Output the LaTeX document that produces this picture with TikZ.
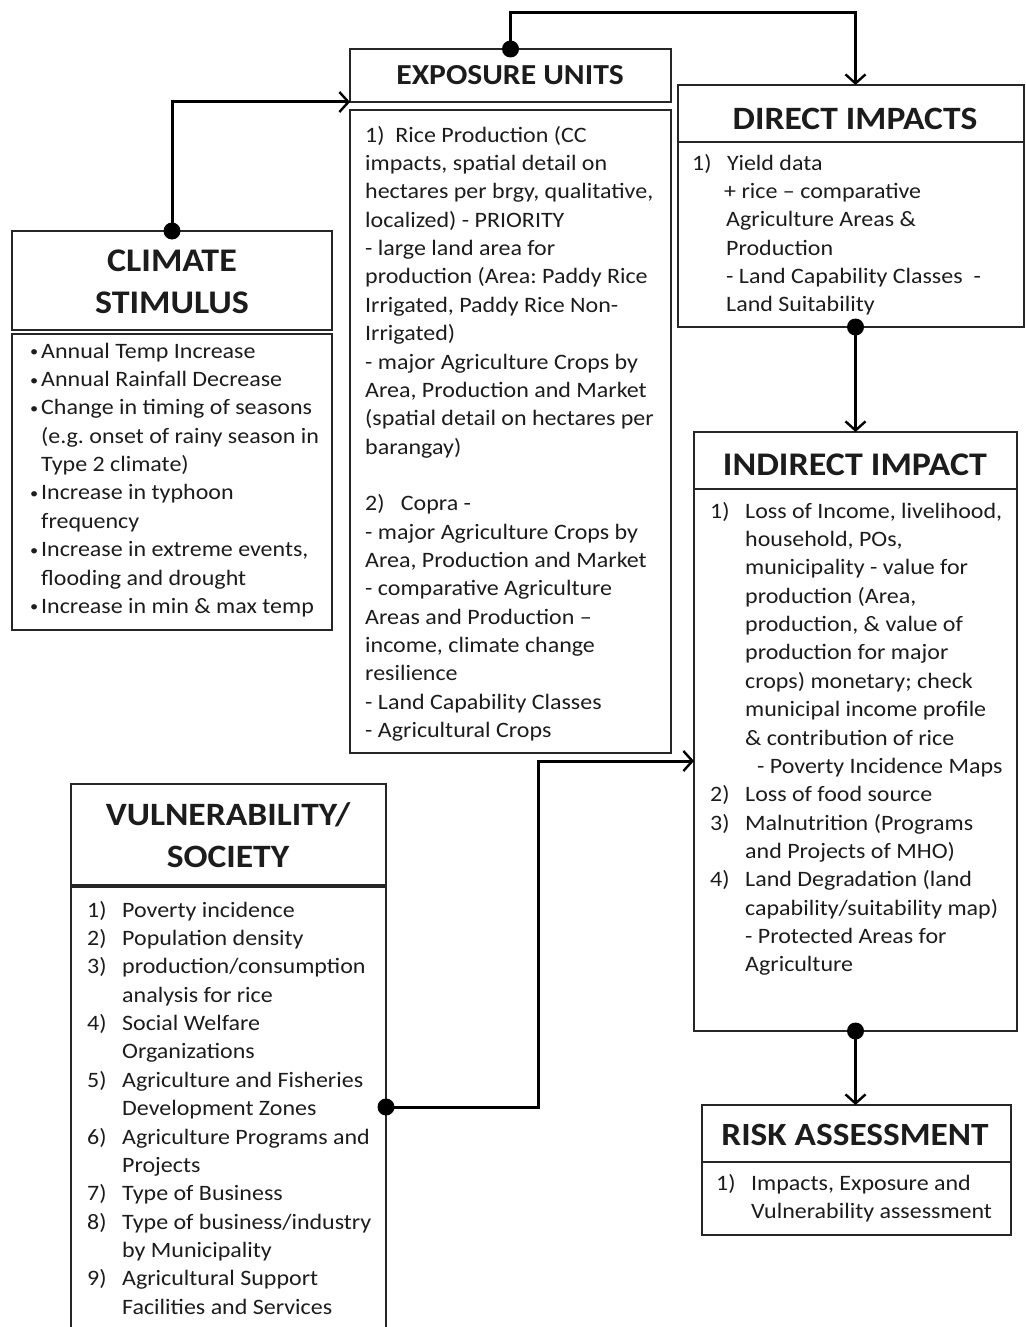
\documentclass[tikz,border=0pt]{standalone}
\usepackage{fontspec}
\setmainfont{Carlito}[FakeStretch=1.09]
\usetikzlibrary{arrows.meta,calc}

% body text: 22pt on a 28.35pt grid
\newcommand\bodyfont{\fontsize{22}{28.35}\selectfont\frenchspacing}
\newcommand\headfont[1]{\fontsize{#1}{42}\selectfont\bfseries}
% numbered entries with a hanging indent
\newcommand\nitem[1]{\makebox[35pt][l]{#1}}
\newcommand\ncont{\hspace*{35pt}}
\newcommand\bul{\makebox[11pt][l]{\raisebox{1.5pt}{\fontsize{15}{15}\selectfont\textbullet}}}
\newcommand\bcont{\hspace*{11pt}}

\definecolor{ink}{HTML}{1C1C1C}
\definecolor{rule}{HTML}{262626}

\tikzset{
  panel/.style={draw=rule, line width=1.6pt, fill=none, anchor=north west,
                inner sep=0pt, outer sep=0pt},
  bodytext/.style={anchor=north west, inner sep=0pt, align=left,
                   font=\bodyfont, text=ink},
  headtext/.style={anchor=base, inner sep=0pt, text=ink},
  conn/.style={draw=black, line width=3pt,
               -{Straight Barb[length=9pt, width=20pt, line width=2.4pt]}},
  dot/.style={fill=black},
}

\begin{document}
\begin{tikzpicture}[x=1pt, y=-1pt]
\useasboundingbox (0,0) rectangle (1025,1327);

% ---------- panels (header and body) ----------
\node[panel, minimum width=320, minimum height=99]  (climH) at (12,231) {};
\node[panel, minimum width=320, minimum height=296] (climB) at (12,334) {};

\node[panel, minimum width=321, minimum height=53]  (expH) at (350,49) {};
\node[panel, minimum width=321, minimum height=643] (expB) at (350,110) {};

\node[panel, minimum width=346, minimum height=57]  (dirH) at (678,85) {};
\node[panel, minimum width=346, minimum height=185] (dirB) at (678,142) {};

\node[panel, minimum width=323, minimum height=57]  (indH) at (694,432) {};
\node[panel, minimum width=323, minimum height=542] (indB) at (694,489) {};

\node[panel, minimum width=309, minimum height=57]  (riskH) at (702,1105) {};
\node[panel, minimum width=309, minimum height=73]  (riskB) at (702,1162) {};

\node[panel, minimum width=315, minimum height=101] (vulH) at (71,784) {};
\node[panel, minimum width=315, minimum height=460] (vulB) at (71,887) {};

% ---------- headings ----------
\node[anchor=north, inner sep=0pt, align=center, text=ink,
      font=\headfont{33}] (climT) at (172,241.6) {\strut CLIMATE\\STIMULUS};
\node[headtext, font=\headfont{29}]   (expT)  at (510,85)  {EXPOSURE UNITS};
\node[headtext, font=\headfont{32.6}] (dirT)  at (855,130) {DIRECT IMPACTS};
\node[headtext, font=\headfont{33}]   (indT)  at (855,475) {INDIRECT IMPACT};
\node[headtext, font=\headfont{32.4}] (riskT) at (855,1145) {RISK ASSESSMENT};
\node[anchor=north, inner sep=0pt, align=center, text=ink,
      font=\headfont{32.6}] (vulT) at (228,795.6) {\strut VULNERABILITY/\\SOCIETY};

% ---------- body texts ----------
\node[bodytext] (climX) at (30,338.15) {\strut
\bul Annual Temp Increase\\
\bul Annual Rainfall Decrease\\
\bul Change in timing of seasons\\
\bcont (e.g. onset of rainy season in\\
\bcont Type 2 climate)\\
\bul Increase in typhoon\\
\bcont frequency\\
\bul Increase in extreme events,\\
\bcont flooding and drought\\
\bul Increase in min \& max temp};

\node[bodytext] (expX) at (365,122.15) {\strut
1)\ \ Rice Production (CC\\
impacts, spatial detail on\\
hectares per brgy, qualitative,\\
localized) - PRIORITY\\
- large land area for\\
production (Area: Paddy Rice\\
Irrigated, Paddy Rice Non-\\
Irrigated)\\
- major Agriculture Crops by\\
Area, Production and Market\\
(spatial detail on hectares per\\
barangay)\\
\mbox{}\\
2)\ \ \ Copra -\\
- major Agriculture Crops by\\
Area, Production and Market\\
- comparative Agriculture\\
Areas and Production --\\
income, climate change\\
resilience\\
- Land Capability Classes\\
- Agricultural Crops};

\node[bodytext] (dirX) at (692,150.15) {\strut
\nitem{1)}Yield data\\
\hspace*{32pt}+ rice -- comparative\\
\hspace*{34pt}Agriculture Areas \&\\
\hspace*{34pt}Production\\
\hspace*{34pt}- Land Capability Classes \ -\\
\hspace*{34pt}Land Suitability};

\node[bodytext] (indX) at (710,498.15) {\strut
\nitem{1)}Loss of Income, livelihood,\\
\ncont household, POs,\\
\ncont municipality - value for\\
\ncont production (Area,\\
\ncont production, \& value of\\
\ncont production for major\\
\ncont crops) monetary; check\\
\ncont municipal income profile\\
\ncont \& contribution of rice\\
\hspace*{47pt}- Poverty Incidence Maps\\
\nitem{2)}Loss of food source\\
\nitem{3)}Malnutrition (Programs\\
\ncont and Projects of MHO)\\
\nitem{4)}Land Degradation (land\\
\ncont capability/suitability map)\\
\ncont - Protected Areas for\\
\ncont Agriculture};

\node[bodytext] (riskX) at (716,1170.15) {\strut
\nitem{1)}Impacts, Exposure and\\
\ncont Vulnerability assessment};

\node[bodytext] (vulX) at (87,897.15) {\strut
\nitem{1)}Poverty incidence\\
\nitem{2)}Population density\\
\nitem{3)}production/consumption\\
\ncont analysis for rice\\
\nitem{4)}Social Welfare\\
\ncont Organizations\\
\nitem{5)}Agriculture and Fisheries\\
\ncont Development Zones\\
\nitem{6)}Agriculture Programs and\\
\ncont Projects\\
\nitem{7)}Type of Business\\
\nitem{8)}Type of business/industry\\
\ncont by Municipality\\
\nitem{9)}Agricultural Support\\
\ncont Facilities and Services};

% ---------- connectors ----------
% climate stimulus -> exposure units
\draw[conn] (climH.north) |- (expH.south west);
\fill[dot] (climH.north) circle (8.5);

% exposure units -> direct impacts
\coordinate (topRun) at ($(expH.north)+(0,-36)$);
\draw[conn] (expH.north) -- (topRun) -| (indH.north |- dirH.north);
\fill[dot] (expH.north) circle (8.5);

% direct impacts -> indirect impact
\draw[conn] (indH.north |- dirB.south) -- (indH.north);
\fill[dot] (indH.north |- dirB.south) circle (8.5);

% indirect impact -> risk assessment
\draw[conn] (indB.south) -- (indB.south |- riskH.north);
\fill[dot] (indB.south) circle (8.5);

% vulnerability / society -> indirect impact
\coordinate (vulOut) at ($(vulB.north east)+(0,220)$);
\coordinate (vulTurn) at (538,761);
\draw[conn] (vulOut) -| (vulTurn) -- (vulTurn -| indB.west);
\fill[dot] (vulOut) circle (8.5);

\end{tikzpicture}
\end{document}
